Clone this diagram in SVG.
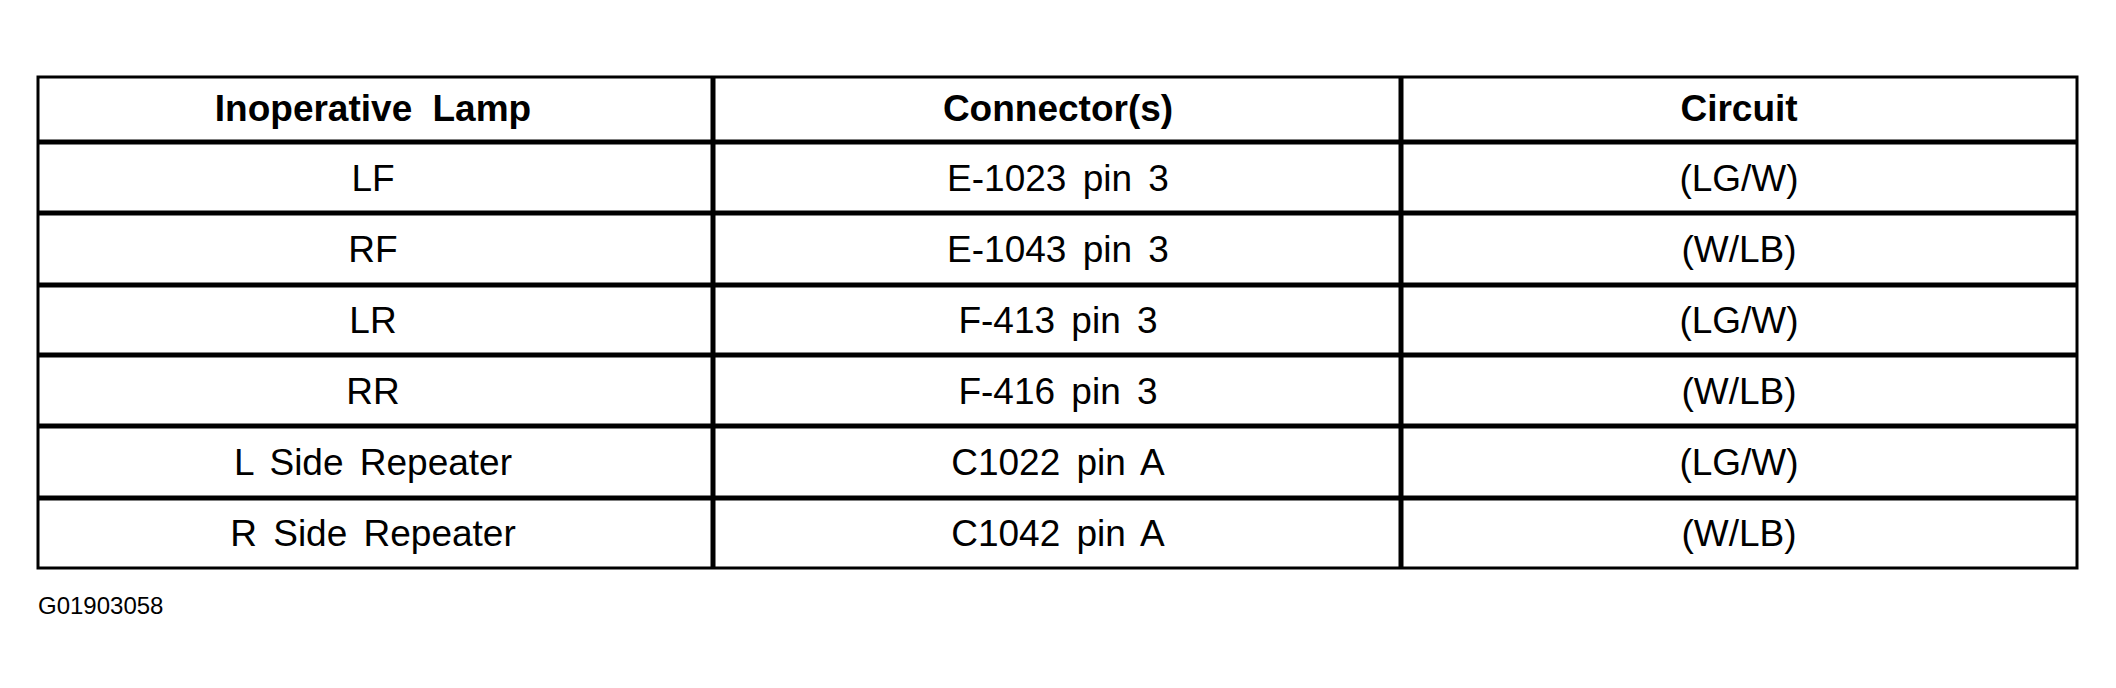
<svg xmlns="http://www.w3.org/2000/svg" width="2116" height="688" viewBox="0 0 2116 688">
<style>
.t{font-family:"Liberation Sans",Arial,sans-serif;font-size:37px;fill:#000;text-anchor:middle;word-spacing:6px}
.h{font-weight:bold;word-spacing:10px}
.ln{stroke:#000;fill:none}
</style>
<rect width="2116" height="688" fill="#fff"/>
<g id="grid">
<rect class="ln" x="38" y="77" width="2039" height="491" stroke-width="3"/>
<g class="ln" stroke-width="5">
<line x1="38" y1="142" x2="2077" y2="142"/>
<line x1="38" y1="213" x2="2077" y2="213"/>
<line x1="38" y1="285" x2="2077" y2="285"/>
<line x1="38" y1="355" x2="2077" y2="355"/>
<line x1="38" y1="426" x2="2077" y2="426"/>
<line x1="38" y1="498" x2="2077" y2="498"/>
<line x1="713" y1="77" x2="713" y2="568"/>
<line x1="1401" y1="77" x2="1401" y2="568"/>
</g>
</g>
<g id="header">
<text class="t h" x="373" y="121">Inoperative Lamp</text>
<text class="t h" x="1058" y="121">Connector(s)</text>
<text class="t h" x="1739" y="121">Circuit</text>
</g>
<g id="col1">
<text class="t" x="373" y="191">LF</text>
<text class="t" x="373" y="262">RF</text>
<text class="t" x="373" y="333">LR</text>
<text class="t" x="373" y="404">RR</text>
<text class="t" x="373" y="475">L Side Repeater</text>
<text class="t" x="373" y="546">R Side Repeater</text>
</g>
<g id="col2">
<text class="t" x="1058" y="191">E-1023 pin 3</text>
<text class="t" x="1058" y="262">E-1043 pin 3</text>
<text class="t" x="1058" y="333">F-413 pin 3</text>
<text class="t" x="1058" y="404">F-416 pin 3</text>
<text class="t" x="1058" y="475">C1022 pin A</text>
<text class="t" x="1058" y="546">C1042 pin A</text>
</g>
<g id="col3">
<text class="t" x="1739" y="191">(LG/W)</text>
<text class="t" x="1739" y="262">(W/LB)</text>
<text class="t" x="1739" y="333">(LG/W)</text>
<text class="t" x="1739" y="404">(W/LB)</text>
<text class="t" x="1739" y="475">(LG/W)</text>
<text class="t" x="1739" y="546">(W/LB)</text>
</g>
<text x="38" y="614" font-family="Liberation Sans,Arial,sans-serif" font-size="24" fill="#000">G01903058</text>
</svg>
